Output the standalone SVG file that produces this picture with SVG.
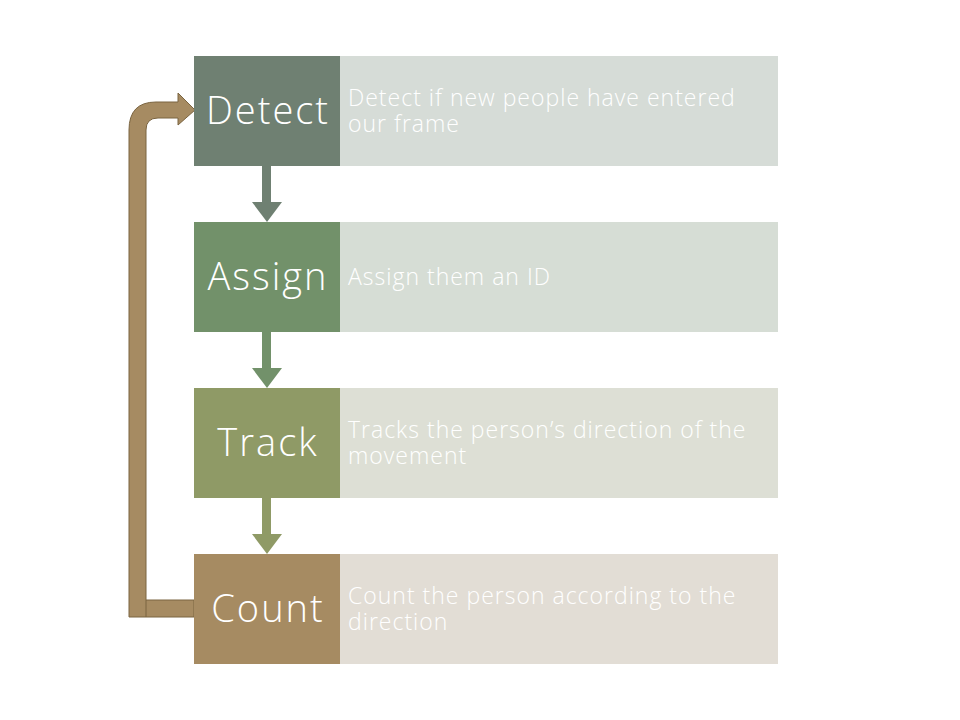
<svg xmlns="http://www.w3.org/2000/svg" width="960" height="720" viewBox="0 0 960 720">
<style>
.lbl{font-family:"Open Sans","Lato","Liberation Sans",sans-serif;font-weight:300;font-size:38px;letter-spacing:2px;fill:#ffffff;text-anchor:middle}
.desc{font-family:"Open Sans","Lato","Liberation Sans",sans-serif;font-weight:300;font-size:23px;letter-spacing:1px;fill:#ffffff}
</style>
<rect width="960" height="720" fill="#ffffff"/>
<g id="connectors">
<g fill="#6f8072"><rect x="262" y="166" width="9" height="36"/><polygon points="252,202 282,202 267,222"/></g>
<g fill="#72916a"><rect x="262" y="332" width="9" height="36"/><polygon points="252,368 282,368 267,388"/></g>
<g fill="#8f9a66"><rect x="262" y="498" width="9" height="36"/><polygon points="252,534 282,534 267,554"/></g>
<path d="M129 617 L194 617 L194 600 L146 600 L146 130 Q146 118 158 118 L178 118 L178 125 L195 110 L178 93 L178 102 L156 102 Q129 102 129 130 Z" fill="#a68b62" stroke="#7a6440" stroke-width="1"/>
<line x1="146" y1="600" x2="146" y2="617" stroke="#7a6440" stroke-width="1"/>
</g>
<g id="detect">
<rect x="194" y="56" width="146" height="110" fill="#6f8072"/>
<rect x="340" y="56" width="438" height="110" fill="#d6dcd7"/>
<text class="lbl" x="268" y="124">Detect</text>
<text class="desc" x="348" y="106">Detect if new people have entered<tspan x="348" dy="26">our frame</tspan></text>
</g>
<g id="assign">
<rect x="194" y="222" width="146" height="110" fill="#72916a"/>
<rect x="340" y="222" width="438" height="110" fill="#d6ddd5"/>
<text class="lbl" x="268" y="290">Assign</text>
<text class="desc" x="348" y="285">Assign them an ID</text>
</g>
<g id="track">
<rect x="194" y="388" width="146" height="110" fill="#8f9a66"/>
<rect x="340" y="388" width="438" height="110" fill="#dddfd5"/>
<text class="lbl" x="268" y="456">Track</text>
<text class="desc" x="348" y="438">Tracks the person’s direction of the<tspan x="348" dy="26">movement</tspan></text>
</g>
<g id="count">
<rect x="194" y="554" width="146" height="110" fill="#a68b62"/>
<rect x="340" y="554" width="438" height="110" fill="#e2ddd5"/>
<text class="lbl" x="268" y="622">Count</text>
<text class="desc" x="348" y="604">Count the person according to the<tspan x="348" dy="26">direction</tspan></text>
</g>
</svg>
